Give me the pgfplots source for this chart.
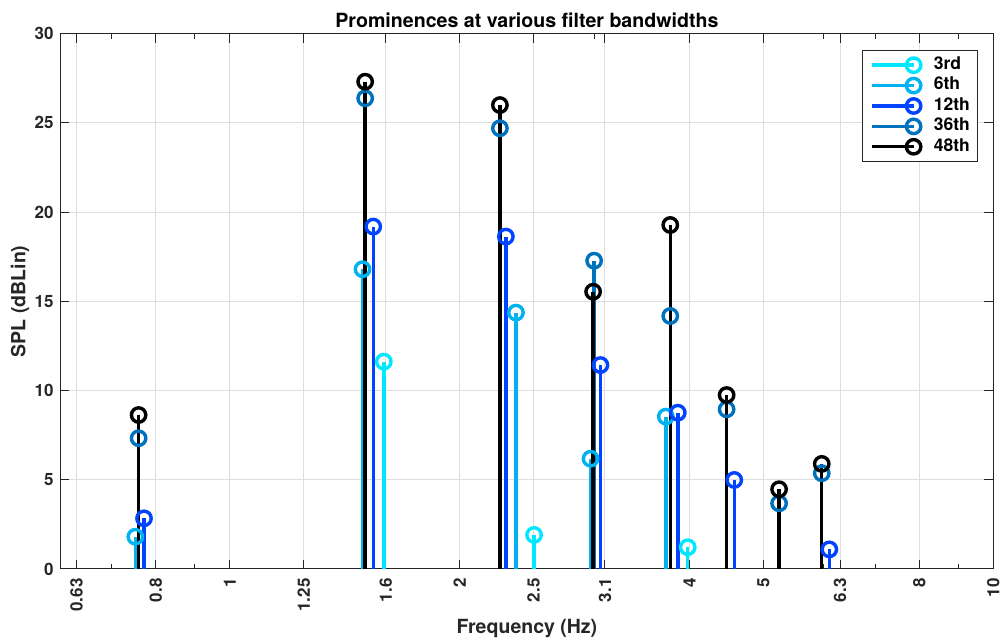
\documentclass[border=0pt]{standalone}
\usepackage{fontspec}
\setmainfont{TeX Gyre Heros}
\usepackage{pgfplots}
\pgfplotsset{compat=1.18}
\definecolor{c3}{RGB}{0,232,255}
\definecolor{c6}{RGB}{0,178,240}
\definecolor{c12}{RGB}{0,68,255}
\definecolor{c36}{RGB}{0,114,189}
\definecolor{axc}{RGB}{38,38,38}
\begin{document}
\begin{tikzpicture}
\begin{axis}[
  scale only axis, width=466.4pt, height=267.65pt,
  xmode=log, xmin=0.6, xmax=10, ymin=0, ymax=30,
  xtick={0.63,0.8,1,1.25,1.6,2,2.5,3.1,4,5,6.3,8,10},
  xticklabels={0.63,0.8,1,1.25,1.6,2,2.5,3.1,4,5,6.3,8,10},
  minor xtick={0.6,0.7,0.8,0.9,2,3,4,5,6,7,8,9},
  ytick={0,5,...,30},
  /pgf/number format/assume math mode=true,
  tick pos=both, tick align=inside,
  major tick length=4.5pt, minor tick length=2.5pt,
  every tick/.style={axc, line width=0.5pt},
  grid=major,
  major grid style={draw=black!13, line width=0.5pt},
  axis line style={axc, line width=0.5pt},
  xticklabel style={font=\bfseries\fontsize{8.5}{10}\selectfont, text=axc, rotate=90, anchor=east, inner sep=0pt},
  yticklabel style={font=\bfseries\fontsize{8.5}{10}\selectfont, text=axc, anchor=east, inner sep=0pt},
  xticklabel shift=4.5pt, yticklabel shift=3.25pt,
  every axis title shift=0pt,
  title={Prominences at various filter bandwidths},
  title style={font=\bfseries\fontsize{9.8}{12}\selectfont, text=black, at={(axis description cs:0.5,1.0258)}, anchor=center, yshift=0pt},
  xlabel={Frequency (Hz)},
  xlabel style={font=\bfseries\fontsize{9.75}{12}\selectfont, text=axc, at={(axis description cs:0.5,-0.1115)}, anchor=center},
  ylabel={SPL (dBLin)},
  ylabel style={font=\bfseries\fontsize{9.75}{12}\selectfont, text=axc, at={(axis description cs:-0.0434,0.5)}, anchor=center},
  legend cell align=left,
  legend style={at={(rel axis cs:1,1)}, xshift=-7.5pt, yshift=-8.15pt, anchor=north east,
    draw=axc, line width=0.5pt, fill=white,
    font=\bfseries\fontsize{8.75}{10}\selectfont,
    inner xsep=4pt, inner ysep=3pt, row sep=1.5pt, column sep=6.5pt,
    nodes={inner sep=0pt, text height=6.5pt, text depth=2.2pt}},
  stemplot/.style={ycomb, mark=o, line width=1.7pt, mark size=3.6pt, mark options={solid},
    legend image code/.code={\draw[##1, sharp plot, mark indices={2}] plot coordinates {(0pt,0pt) (20.85pt,0pt)};}},
]
\addplot[stemplot, color=c3] coordinates {(1.591,11.62) (2.503,1.91) (3.979,1.22)};
\addlegendentry{3rd}
\addplot[stemplot, color=c6] coordinates {(0.752,1.81) (1.492,16.8) (2.370,14.37) (2.968,6.18) (3.725,8.54)};
\addlegendentry{6th}
\addplot[stemplot, color=c12] coordinates {(0.772,2.84) (1.541,19.19) (2.299,18.63) (3.058,11.43) (3.862,8.76) (4.578,4.99) (6.099,1.10)};
\addlegendentry{12th}
\addplot[stemplot, color=c36] coordinates {(0.7595,7.33) (1.504,26.38) (2.258,24.7) (3.00,17.28) (3.775,14.18) (4.474,8.95) (5.241,3.68) (5.961,5.37)};
\addlegendentry{36th}
\addplot[stemplot, color=black] coordinates {(0.7595,8.63) (1.504,27.31) (2.258,26.0) (2.991,15.54) (3.775,19.28) (4.474,9.75) (5.241,4.47) (5.961,5.89)};
\addlegendentry{48th}
\end{axis}
\pgfresetboundingbox
\path (-30.25pt,-36pt) rectangle (469.75pt,284.5pt);
\end{tikzpicture}
\end{document}
